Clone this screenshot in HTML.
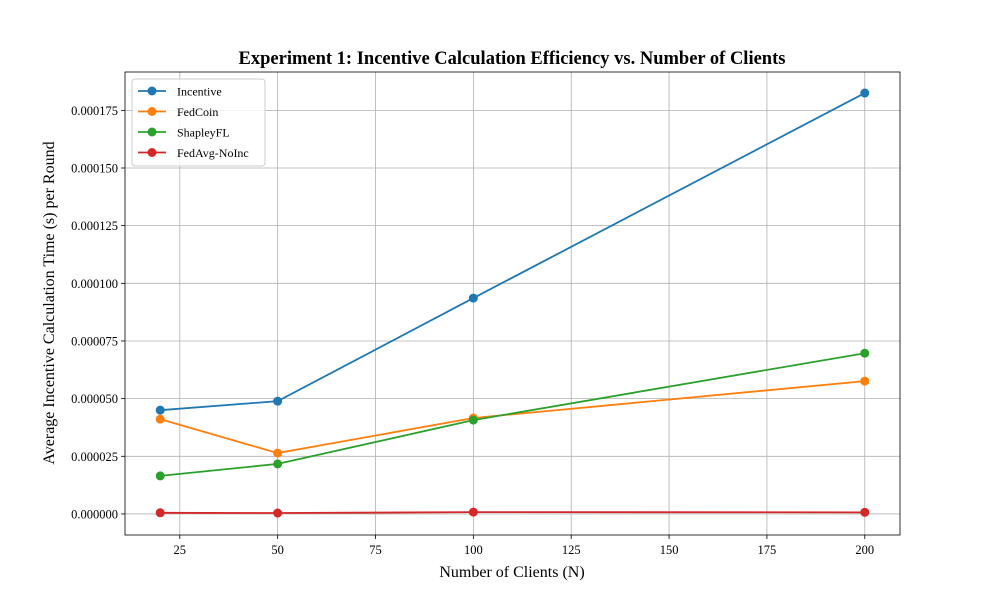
<!DOCTYPE html>
<html><head><meta charset="utf-8">
<style>body{margin:0;background:#fff}svg text{font-family:"Liberation Serif",serif}</style>
</head><body>
<svg id="chart" width="1000" height="600" xmlns="http://www.w3.org/2000/svg">
<rect width="1000" height="600" fill="#fff"/>
<g id="grid"></g>
<g id="axes"></g>
<g id="series"></g>
<text x="512" y="64" text-anchor="middle" font-size="18.5" font-weight="bold">Experiment 1: Incentive Calculation Efficiency vs. Number of Clients</text>
<text x="512" y="577" text-anchor="middle" font-size="16">Number of Clients (N)</text>
<text transform="translate(54,303) rotate(-90)" text-anchor="middle" font-size="16">Average Incentive Calculation Time (s) per Round</text>
<g id="legend"></g>
</svg>
<script>
const categories=[20,50,100,200];
const incentive=[45.0e-6,48.9e-6,93.6e-6,182.5e-6];
const fedcoin=[41.1e-6,26.4e-6,41.6e-6,57.6e-6];
const shapley=[16.5e-6,21.7e-6,40.7e-6,69.7e-6];
const fedavg=[0.5e-6,0.4e-6,0.8e-6,0.7e-6];
const xTicks=[25,50,75,100,125,150,175,200];
const yTicks=[0,0.000025,0.00005,0.000075,0.0001,0.000125,0.00015,0.000175];
const yTickLabels=["0.000000","0.000025","0.000050","0.000075","0.000100","0.000125","0.000150","0.000175"];
const names=["Incentive","FedCoin","ShapleyFL","FedAvg-NoInc"];
const colors=["#1f77b4","#ff7f0e","#2ca02c","#d62728"];
const seriesData=[incentive,fedcoin,shapley,fedavg];

const L=125,R=900,T=72,B=535;
const x0=11,x1=209;
const all=seriesData.flat();const ymax=Math.max(...all),ymin=Math.min(0,...all);
const pad=(ymax-ymin)*0.05;const y0=ymin-pad,y1=ymax+pad;
const sx=v=>L+(v-x0)/(x1-x0)*(R-L);
const sy=v=>B-(v-y0)/(y1-y0)*(B-T);
const NS="http://www.w3.org/2000/svg";
function mk(tag,attrs,parent){const e=document.createElementNS(NS,tag);for(const k in attrs)e.setAttribute(k,attrs[k]);parent.appendChild(e);return e;}
const grid=document.getElementById('grid'),axes=document.getElementById('axes'),ser=document.getElementById('series'),leg=document.getElementById('legend');
xTicks.forEach(t=>{const X=sx(t);
 let g=mk('line',{x1:X,x2:X,y1:T,y2:B,stroke:'#b0b0b0','stroke-width':0.8},grid);
 
 mk('line',{x1:X,x2:X,y1:B,y2:B+4,stroke:'#000','stroke-width':0.8},axes);
 let tx=mk('text',{x:X,y:B+19,'text-anchor':'middle','font-size':12.5},axes);tx.textContent=t;
 });
yTicks.forEach((t,i)=>{const Y=sy(t);
 let g=mk('line',{x1:L,x2:R,y1:Y,y2:Y,stroke:'#b0b0b0','stroke-width':0.8},grid);
 
 mk('line',{x1:L-4,x2:L,y1:Y,y2:Y,stroke:'#000','stroke-width':0.8},axes);
 let tx=mk('text',{x:L-7,y:Y+4.5,'text-anchor':'end','font-size':12.5},axes);tx.textContent=yTickLabels[i];
 });
let fr=mk('rect',{x:L,y:T,width:R-L,height:B-T,fill:'none',stroke:'#000','stroke-width':0.8},axes);

seriesData.forEach((d,s)=>{
 const pts=categories.map((c,i)=>sx(c)+','+sy(d[i])).join(' ');
 let pl=mk('polyline',{points:pts,fill:'none',stroke:colors[s],'stroke-width':1.8},ser);
 
 categories.forEach((c,i)=>{let p=mk('circle',{cx:sx(c),cy:sy(d[i]),r:4.5,fill:colors[s]},ser);
  });
});
let lb=mk('rect',{x:132,y:79,width:133,height:87,rx:3,fill:'#fff','fill-opacity':0.8,stroke:'#ccc','stroke-width':1},leg);

names.forEach((n,i)=>{const Y=91+i*20.5;
 mk('line',{x1:138,x2:166,y1:Y,y2:Y,stroke:colors[i],'stroke-width':1.8},leg);
 mk('circle',{cx:152,cy:Y,r:4.5,fill:colors[i]},leg);
 let t=mk('text',{x:177,y:Y+4.5,'font-size':12},leg);t.textContent=n;
 });
</script>
</body></html>
